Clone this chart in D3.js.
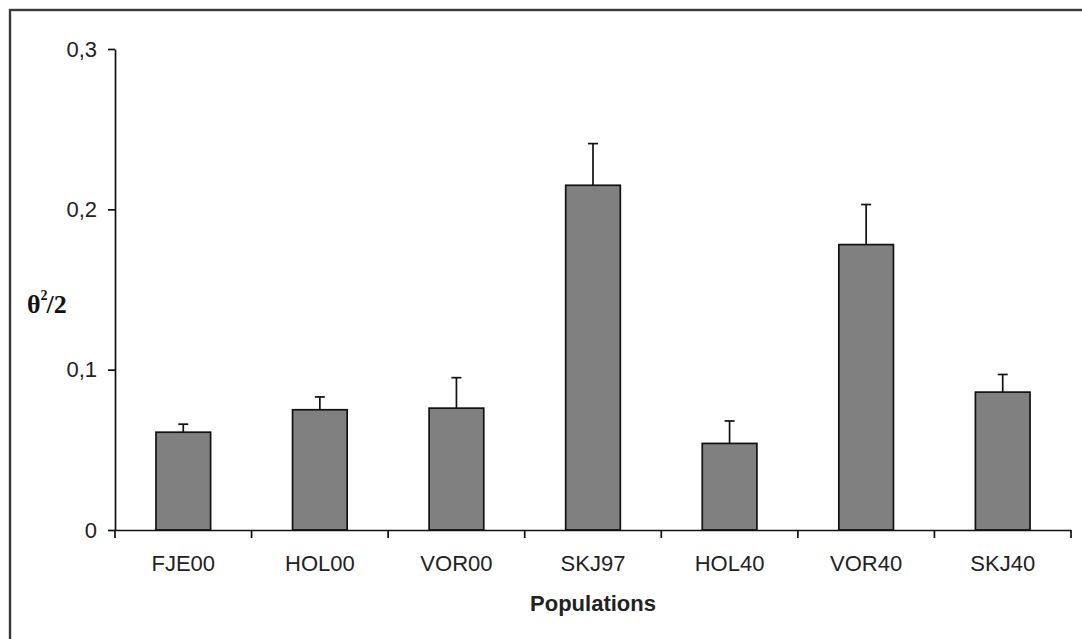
<!DOCTYPE html>
<html><head><meta charset="utf-8">
<script src="https://cdn.jsdelivr.net/npm/d3@7"></script>
<style>body{margin:0;background:#fff}svg{display:block}</style>
</head><body>
<svg id="chart" width="1082" height="639"></svg>
<script>
const categories = ["FJE00","HOL00","VOR00","SKJ97","HOL40","VOR40","SKJ40"];
const values = [0.061, 0.075, 0.076, 0.215, 0.054, 0.178, 0.086];
const errors = [0.005, 0.008, 0.019, 0.026, 0.014, 0.025, 0.011];
const yTicks = [0, 0.1, 0.2, 0.3];
const yTickLabels = ["0","0,1","0,2","0,3"];
const xTitle = "Populations";

const svg = d3.select("#chart");
const W = 1082, H = 639;
const m = {left:115, right:1071, top:49, bottom:530};

// frame (top and left visible)
svg.append("rect").attr("x",10).attr("y",10).attr("width",W).attr("height",H)
  .attr("fill","none").attr("stroke","#3a3a3a").attr("stroke-width",2.4);

const x = d3.scaleBand().domain(categories).range([m.left,m.right]).paddingInner(0.6).paddingOuter(0.3);
const y = d3.scaleLinear().domain([0,0.3]).range([m.bottom,m.top]);

// bars
svg.append("g").selectAll("rect").data(categories).join("rect")
  .attr("x",d=>x(d)).attr("width",x.bandwidth())
  .attr("y",(d,i)=>y(values[i])).attr("height",(d,i)=>y(0)-y(values[i]))
  .attr("fill","#808080").attr("stroke","#111").attr("stroke-width",1.7);

// error bars
const eg = svg.append("g").attr("stroke","#111").attr("stroke-width",1.7);
categories.forEach((c,i)=>{
  const cx = x(c)+x.bandwidth()/2;
  eg.append("line").attr("x1",cx).attr("x2",cx).attr("y1",y(values[i])).attr("y2",y(values[i]+errors[i]));
  eg.append("line").attr("x1",cx-5).attr("x2",cx+5).attr("y1",y(values[i]+errors[i])).attr("y2",y(values[i]+errors[i]));
});

// y axis
const yAxis = d3.axisLeft(y).tickValues(yTicks).tickFormat((d,i)=>yTickLabels[i]).tickSize(7).tickPadding(11).tickSizeOuter(0);
const gy = svg.append("g").attr("transform",`translate(${m.left},0)`).call(yAxis);
gy.select(".domain").attr("stroke","#111").attr("stroke-width",1.7);
gy.selectAll(".tick line").attr("stroke","#111").attr("stroke-width",1.7);
gy.selectAll("text").attr("font-family","Liberation Sans, Arial, sans-serif").attr("font-size",22).attr("fill","#222");

// x axis
const xAxis = d3.axisBottom(x).tickSize(0).tickPadding(25).tickSizeOuter(0);
const gx = svg.append("g").attr("transform",`translate(0,${m.bottom})`).call(xAxis);
gx.select(".domain").attr("stroke","#111").attr("stroke-width",1.7);
gx.selectAll("text").attr("font-family","Liberation Sans, Arial, sans-serif").attr("font-size",22).attr("fill","#222");
// boundary ticks
const bounds = d3.range(categories.length+1).map(k=>m.left + k*(m.right-m.left)/categories.length);
gx.append("g").selectAll("line").data(bounds).join("line")
  .attr("x1",d=>d).attr("x2",d=>d).attr("y1",0).attr("y2",8)
  .attr("stroke","#111").attr("stroke-width",1.7);

// x title
svg.append("text").attr("x",(m.left+m.right)/2).attr("y",611).attr("text-anchor","middle")
  .attr("font-family","Liberation Sans, Arial, sans-serif").attr("font-weight","bold").attr("font-size",22)
  .attr("fill","#222").text(xTitle);

// y title θ²/2
const yt = svg.append("text").attr("x",27).attr("y",313)
  .attr("font-family","Liberation Serif, Times New Roman, serif").attr("font-weight","bold").attr("font-size",26).attr("fill","#111");
yt.append("tspan").text("θ");
yt.append("tspan").attr("font-size",14).attr("dy",-13).text("2");
yt.append("tspan").attr("dy",13).attr("dx",-1).text("/2");
</script>
</body></html>
